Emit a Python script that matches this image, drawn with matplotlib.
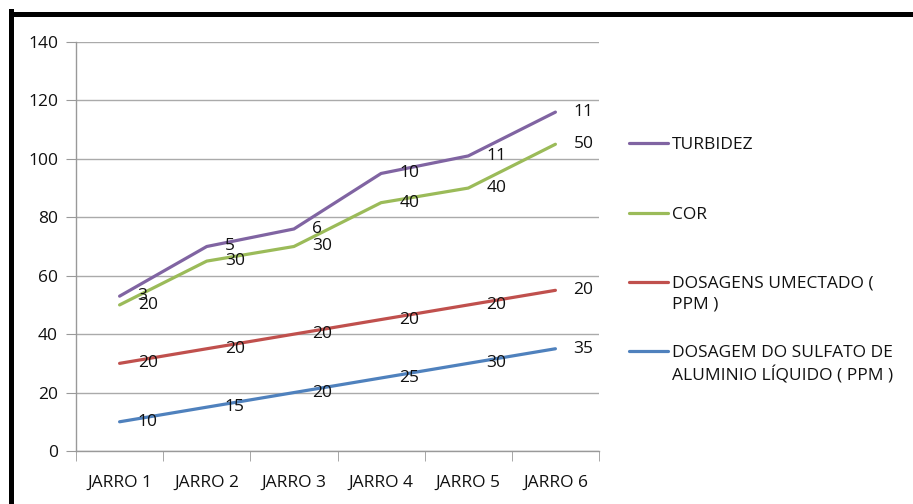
import matplotlib
matplotlib.use("Agg")
import matplotlib.pyplot as plt
from matplotlib.lines import Line2D
from matplotlib.font_manager import fontManager
import numpy as np

# Data: each series is stacked on top of the ones below it
categories = ["JARRO 1", "JARRO 2", "JARRO 3", "JARRO 4", "JARRO 5", "JARRO 6"]
sulfato = [10, 15, 20, 25, 30, 35]
umectado = [20, 20, 20, 20, 20, 20]
cor = [20, 30, 30, 40, 40, 50]
turbidez = [3, 5, 6, 10, 11, 11]

series_names = ["DOSAGEM DO SULFATO DE\nALUMINIO LÍQUIDO ( PPM )",
                "DOSAGENS UMECTADO (\nPPM )",
                "COR",
                "TURBIDEZ"]
series_values = [sulfato, umectado, cor, turbidez]
series_colors = ["#4F81BD", "#C0504D", "#9BBB59", "#8064A2"]
y_ticks = [0, 20, 40, 60, 80, 100, 120, 140]

names = {f.name for f in fontManager.ttflist}
family = [f for f in ["Liberation Sans Narrow", "Open Sans", "DejaVu Sans"] if f in names]
plt.rcParams["font.family"] = family
FS = 12.5
TXT = "#111111"

fig = plt.figure(figsize=(9.13, 5.04), dpi=100)
ax = fig.add_axes([76 / 913, 1 - 451 / 504, (599 - 76) / 913, (451 - 42) / 504])

x = np.arange(len(categories))
cum = np.zeros(len(categories))
for vals, color in zip(series_values, series_colors):
    cum = cum + np.array(vals)
    ax.plot(x, cum, color=color, lw=2.3, solid_capstyle="round", zorder=3)
    for xi, yi, v in zip(x, cum, vals):
        ax.annotate(str(v), (xi, yi), xytext=(13, 0), textcoords="offset points",
                    ha="left", va="center", fontsize=FS, color=TXT, zorder=4)

ax.set_xlim(-0.5, len(categories) - 0.5)
ax.set_ylim(0, 140)
ax.set_yticks(y_ticks)
ax.set_yticklabels([str(t) for t in y_ticks], fontsize=FS, color=TXT)
ax.set_xticks(x)
ax.set_xticklabels(categories, fontsize=FS, color=TXT)
ax.set_xticks(np.arange(-0.5, len(categories)), minor=True)
ax.tick_params(axis="x", which="major", length=0, pad=17)
ax.tick_params(axis="x", which="minor", length=7, color="#999999", direction="out")
ax.tick_params(axis="y", length=7, color="#999999", pad=6)
ax.yaxis.grid(True, color="#AAAAAA", lw=1.0)
ax.set_axisbelow(True)
for s in ["top", "right"]:
    ax.spines[s].set_visible(False)
for s in ["left", "bottom"]:
    ax.spines[s].set_color("#999999")
    ax.spines[s].set_linewidth(1.0)

# Legend drawn beside the plot, handle aligned to the first line of each label
legend_rows = [("TURBIDEZ", "#8064A2", 143),
               ("COR", "#9BBB59", 213),
               ("DOSAGENS UMECTADO (\nPPM )", "#C0504D", 282),
               ("DOSAGEM DO SULFATO DE\nALUMINIO LÍQUIDO ( PPM )", "#4F81BD", 351)]
for label, color, ypx in legend_rows:
    yf = 1 - ypx / 504
    fig.add_artist(Line2D([629 / 913, 668 / 913], [yf, yf], color=color, lw=2.3,
                          solid_capstyle="round", transform=fig.transFigure))
    fig.text(672 / 913, yf + 6 / 504, label, fontsize=FS, ha="left", va="top",
             linespacing=1.4, color=TXT)

# Black frame on the top and left edges
fig.add_artist(Line2D([10.5 / 913, 1.0], [1 - 13.5 / 504] * 2, color="black", lw=3.6,
                      transform=fig.transFigure))
fig.add_artist(Line2D([10.5 / 913] * 2, [0, 1 - 11 / 504], color="black", lw=3.6,
                      transform=fig.transFigure))

fig.savefig("out.png", dpi=100)
